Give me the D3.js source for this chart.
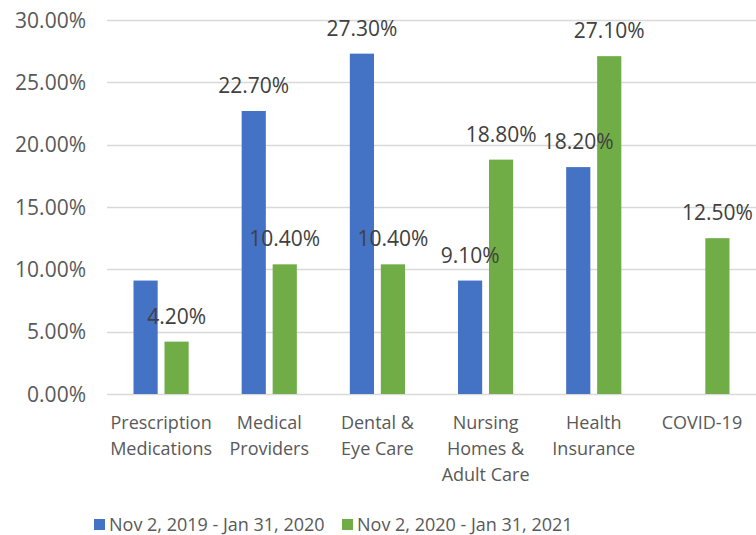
<!DOCTYPE html>
<html lang="en">
<head>
<meta charset="utf-8">
<title>Bar chart</title>
<style>
  body { margin: 0; padding: 0; background: #fff; }
  svg { display: block; font-family: "Open Sans", sans-serif; }
</style>
<script src="https://cdn.jsdelivr.net/npm/d3@7"></script>
</head>
<body>
<div id="root"></div>
<script>
// data
var categories = [
  ["Prescription", "Medications"],
  ["Medical", "Providers"],
  ["Dental &", "Eye Care"],
  ["Nursing", "Homes &", "Adult Care"],
  ["Health", "Insurance"],
  ["COVID-19"]
];
var seriesNames = ["Nov 2, 2019 - Jan 31, 2020", "Nov 2, 2020 - Jan 31, 2021"];
var period1 = [9.1, 22.7, 27.3, 9.1, 18.2, null];
var period2 = [4.2, 10.4, 10.4, 18.8, 27.1, 12.5];
// the first blue bar carries no data label in the original
var showLabel1 = [false, true, true, true, true, false];
var showLabel2 = [true, true, true, true, true, true];
var yTicks = [0, 5, 10, 15, 20, 25, 30];
var colors = ["#4472C4", "#70AD47"];

var width = 756, height = 535;
var margin = {left: 107, right: 0, top: 20, bottom: 141};

var svg = d3.select("#root").append("svg")
  .attr("width", width)
  .attr("height", height);

var y = d3.scaleLinear().domain([0, 30]).range([height - margin.bottom, margin.top]);

var x0 = d3.scaleBand()
  .domain(d3.range(categories.length))
  .range([margin.left, width - margin.right])
  .paddingInner(0.49)
  .paddingOuter(0.245);

var x1 = d3.scaleBand()
  .domain([0, 1])
  .range([0, x0.bandwidth()])
  .paddingInner(0.22);

// gridlines
svg.append("g")
  .selectAll("line")
  .data(yTicks)
  .enter().append("line")
    .attr("x1", margin.left)
    .attr("x2", width - margin.right)
    .attr("y1", function(d) { return Math.round(y(d)) + 0.5; })
    .attr("y2", function(d) { return Math.round(y(d)) + 0.5; })
    .attr("stroke", "#d9d9d9")
    .attr("stroke-width", 1.5);

// y axis labels
svg.append("g")
  .selectAll("text")
  .data(yTicks)
  .enter().append("text")
    .attr("x", 86)
    .attr("y", function(d) { return y(d); })
    .attr("dy", "0.36em")
    .attr("text-anchor", "end")
    .attr("fill", "#595959")
    .style("font-size", "21px")
    .text(function(d) { return d.toFixed(2) + "%"; });

var series = [
  {values: period1, labels: showLabel1},
  {values: period2, labels: showLabel2}
];

var points = series.map(function(s, si) {
  return s.values.map(function(v, i) { return {s: si, i: i, v: v, show: s.labels[i]}; })
    .filter(function(d) { return d.v != null; });
});

// bars first, then all labels on top
series.forEach(function(s, si) {
  svg.append("g")
    .selectAll("rect")
    .data(points[si])
    .enter().append("rect")
      .attr("x", function(d) { return x0(d.i) + x1(si); })
      .attr("width", x1.bandwidth())
      .attr("y", function(d) { return y(d.v); })
      .attr("height", function(d) { return y(0) - y(d.v); })
      .attr("fill", colors[si]);
});

series.forEach(function(s, si) {
  svg.append("g")
    .selectAll("text")
    .data(points[si].filter(function(d) { return d.show; }))
    .enter().append("text")
      .attr("x", function(d) { return x0(d.i) + x1(si) + x1.bandwidth() / 2; })
      .attr("y", function(d) { return y(d.v) - 18; })
      .attr("text-anchor", "middle")
      .attr("fill", "#404040")
      .style("font-size", "21px")
      .text(function(d) { return d.v.toFixed(2) + "%"; });
});

// category labels
var cat = svg.append("g")
  .selectAll("text")
  .data(categories)
  .enter().append("text")
    .attr("text-anchor", "middle")
    .attr("fill", "#595959")
    .style("font-size", "18px")
    .attr("transform", function(d, i) {
      return "translate(" + (x0(i) + x0.bandwidth() / 2) + "," + 429 + ")";
    });

cat.selectAll("tspan")
  .data(function(d) { return d; })
  .enter().append("tspan")
    .attr("x", 0)
    .attr("y", function(d, i) { return i * 26; })
    .text(function(d) { return d; });

// legend
var legendX = [94, 342];
var legend = svg.append("g")
  .selectAll("g")
  .data(seriesNames)
  .enter().append("g")
    .attr("transform", function(d, i) { return "translate(" + legendX[i] + ",525)"; });

legend.append("rect")
  .attr("x", 0)
  .attr("y", -6)
  .attr("width", 11)
  .attr("height", 11)
  .attr("fill", function(d, i) { return colors[i]; });

legend.append("text")
  .attr("x", 15)
  .attr("y", 0)
  .attr("dy", "0.36em")
  .attr("fill", "#595959")
  .style("font-size", "18px")
  .text(function(d) { return d; });
</script>
</body>
</html>
